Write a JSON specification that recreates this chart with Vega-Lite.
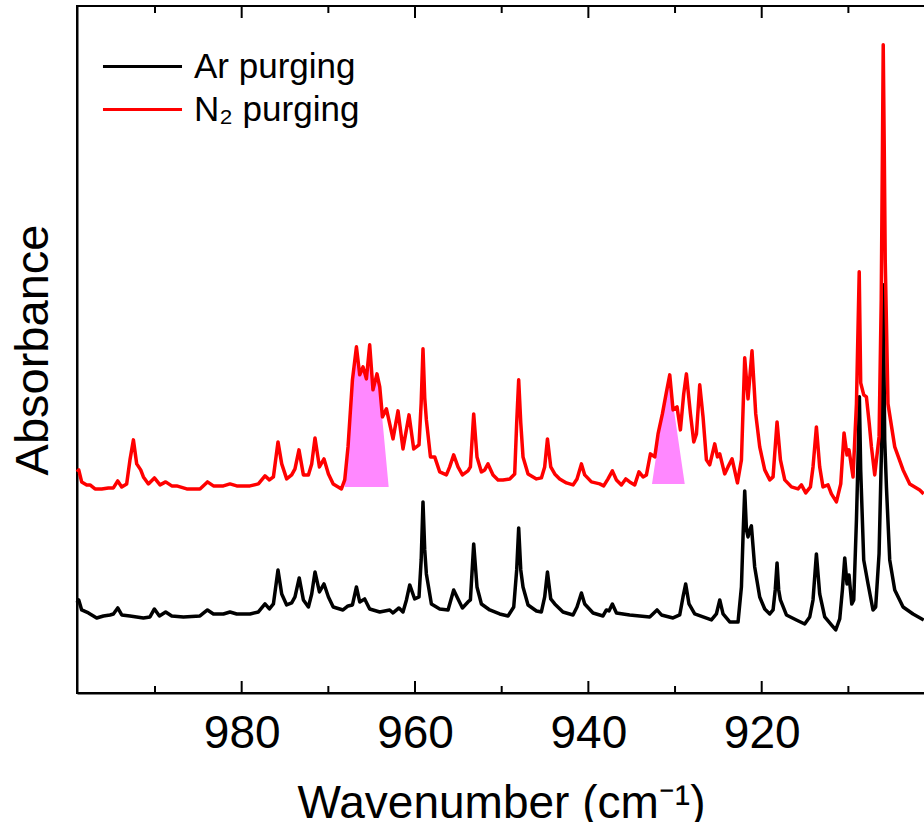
{
"$schema": "https://vega.github.io/schema/vega-lite/v6.json",
"width": 848, "height": 687,
"autosize": "none",
"padding": {"left": 77, "top": 6, "right": 0, "bottom": 129},
"background": "white",
"config": {"font": "Liberation Sans", "view": {"stroke": "#000000", "strokeWidth": 2},
  "axis": {"domainColor": "#000000", "domainWidth": 2, "tickColor": "#000000", "tickWidth": 2, "grid": false, "labelColor": "#000000", "titleColor": "#000000"}},
"datasets": {
"ticks": [
{"wn":980,"a0":0,"a1":0.012},{"wn":960,"a0":0,"a1":0.012},{"wn":940,"a0":0,"a1":0.012},{"wn":920,"a0":0,"a1":0.012},
{"wn":990,"a0":0,"a1":0.007},{"wn":970,"a0":0,"a1":0.007},{"wn":950,"a0":0,"a1":0.007},{"wn":930,"a0":0,"a1":0.007},{"wn":910,"a0":0,"a1":0.007},
{"wn":980,"a0":0.6867,"a1":0.6747},{"wn":960,"a0":0.6867,"a1":0.6747},{"wn":940,"a0":0.6867,"a1":0.6747},{"wn":920,"a0":0.6867,"a1":0.6747},
{"wn":990,"a0":0.6867,"a1":0.6797},{"wn":970,"a0":0.6867,"a1":0.6797},{"wn":950,"a0":0.6867,"a1":0.6797},{"wn":930,"a0":0.6867,"a1":0.6797},{"wn":910,"a0":0.6867,"a1":0.6797}
],
"fill": [
{"r":1,"wn":968.11,"A":0.206,"A0":0.206},{"r":1,"wn":967.73,"A":0.246,"A0":0.206},{"r":1,"wn":967.22,"A":0.313,"A0":0.206},{"r":1,"wn":966.76,"A":0.346,"A0":0.206},{"r":1,"wn":966.38,"A":0.318,"A0":0.206},{"r":1,"wn":966.00,"A":0.326,"A0":0.206},{"r":1,"wn":965.61,"A":0.314,"A0":0.206},{"r":1,"wn":965.23,"A":0.348,"A0":0.206},{"r":1,"wn":964.85,"A":0.303,"A0":0.206},{"r":1,"wn":964.39,"A":0.319,"A0":0.206},{"r":1,"wn":964.07,"A":0.306,"A0":0.206},{"r":1,"wn":963.88,"A":0.284,"A0":0.206},{"r":1,"wn":963.04,"A":0.206,"A0":0.206},
{"r":2,"wn":932.66,"A":0.209,"A0":0.209},{"r":2,"wn":931.46,"A":0.279,"A0":0.209},{"r":2,"wn":930.99,"A":0.301,"A0":0.209},{"r":2,"wn":930.61,"A":0.318,"A0":0.209},{"r":2,"wn":930.30,"A":0.293,"A0":0.209},{"r":2,"wn":928.88,"A":0.209,"A0":0.209}
],
"spec": [
{"s":"Ar purging","wn":999.00,"A":0.090},{"s":"Ar purging","wn":998.80,"A":0.093},{"s":"Ar purging","wn":998.46,"A":0.083},{"s":"Ar purging","wn":997.68,"A":0.080},{"s":"Ar purging","wn":997.30,"A":0.078},{"s":"Ar purging","wn":996.73,"A":0.075},{"s":"Ar purging","wn":995.95,"A":0.077},{"s":"Ar purging","wn":995.19,"A":0.078},{"s":"Ar purging","wn":994.80,"A":0.079},{"s":"Ar purging","wn":994.30,"A":0.085},{"s":"Ar purging","wn":993.84,"A":0.078},{"s":"Ar purging","wn":992.89,"A":0.077},{"s":"Ar purging","wn":991.34,"A":0.075},{"s":"Ar purging","wn":990.58,"A":0.076},{"s":"Ar purging","wn":990.07,"A":0.084},{"s":"Ar purging","wn":989.49,"A":0.077},{"s":"Ar purging","wn":988.77,"A":0.081},{"s":"Ar purging","wn":988.07,"A":0.077},{"s":"Ar purging","wn":986.72,"A":0.076},{"s":"Ar purging","wn":984.81,"A":0.077},{"s":"Ar purging","wn":983.95,"A":0.083},{"s":"Ar purging","wn":983.26,"A":0.079},{"s":"Ar purging","wn":982.11,"A":0.079},{"s":"Ar purging","wn":981.35,"A":0.081},{"s":"Ar purging","wn":980.57,"A":0.079},{"s":"Ar purging","wn":979.04,"A":0.079},{"s":"Ar purging","wn":978.07,"A":0.081},{"s":"Ar purging","wn":977.31,"A":0.089},{"s":"Ar purging","wn":976.80,"A":0.084},{"s":"Ar purging","wn":976.34,"A":0.089},{"s":"Ar purging","wn":975.81,"A":0.123},{"s":"Ar purging","wn":975.38,"A":0.099},{"s":"Ar purging","wn":974.81,"A":0.088},{"s":"Ar purging","wn":974.23,"A":0.090},{"s":"Ar purging","wn":973.85,"A":0.096},{"s":"Ar purging","wn":973.36,"A":0.115},{"s":"Ar purging","wn":972.88,"A":0.093},{"s":"Ar purging","wn":972.30,"A":0.086},{"s":"Ar purging","wn":971.92,"A":0.099},{"s":"Ar purging","wn":971.54,"A":0.121},{"s":"Ar purging","wn":971.03,"A":0.101},{"s":"Ar purging","wn":970.50,"A":0.109},{"s":"Ar purging","wn":969.99,"A":0.096},{"s":"Ar purging","wn":969.44,"A":0.086},{"s":"Ar purging","wn":968.31,"A":0.083},{"s":"Ar purging","wn":967.73,"A":0.087},{"s":"Ar purging","wn":967.22,"A":0.088},{"s":"Ar purging","wn":966.76,"A":0.106},{"s":"Ar purging","wn":966.38,"A":0.091},{"s":"Ar purging","wn":965.81,"A":0.094},{"s":"Ar purging","wn":965.23,"A":0.084},{"s":"Ar purging","wn":964.07,"A":0.081},{"s":"Ar purging","wn":962.92,"A":0.083},{"s":"Ar purging","wn":962.54,"A":0.080},{"s":"Ar purging","wn":961.85,"A":0.085},{"s":"Ar purging","wn":961.39,"A":0.081},{"s":"Ar purging","wn":960.99,"A":0.093},{"s":"Ar purging","wn":960.61,"A":0.108},{"s":"Ar purging","wn":960.04,"A":0.094},{"s":"Ar purging","wn":959.54,"A":0.096},{"s":"Ar purging","wn":959.29,"A":0.133},{"s":"Ar purging","wn":959.08,"A":0.191},{"s":"Ar purging","wn":958.88,"A":0.143},{"s":"Ar purging","wn":958.69,"A":0.119},{"s":"Ar purging","wn":958.11,"A":0.089},{"s":"Ar purging","wn":957.15,"A":0.084},{"s":"Ar purging","wn":956.19,"A":0.083},{"s":"Ar purging","wn":955.54,"A":0.103},{"s":"Ar purging","wn":955.04,"A":0.094},{"s":"Ar purging","wn":954.53,"A":0.085},{"s":"Ar purging","wn":953.89,"A":0.091},{"s":"Ar purging","wn":953.61,"A":0.093},{"s":"Ar purging","wn":953.23,"A":0.149},{"s":"Ar purging","wn":952.85,"A":0.106},{"s":"Ar purging","wn":952.34,"A":0.089},{"s":"Ar purging","wn":951.38,"A":0.083},{"s":"Ar purging","wn":950.23,"A":0.079},{"s":"Ar purging","wn":949.27,"A":0.077},{"s":"Ar purging","wn":948.61,"A":0.086},{"s":"Ar purging","wn":948.27,"A":0.123},{"s":"Ar purging","wn":948.04,"A":0.165},{"s":"Ar purging","wn":947.80,"A":0.123},{"s":"Ar purging","wn":947.54,"A":0.106},{"s":"Ar purging","wn":946.96,"A":0.088},{"s":"Ar purging","wn":945.99,"A":0.082},{"s":"Ar purging","wn":945.42,"A":0.081},{"s":"Ar purging","wn":945.04,"A":0.096},{"s":"Ar purging","wn":944.72,"A":0.121},{"s":"Ar purging","wn":944.34,"A":0.094},{"s":"Ar purging","wn":943.88,"A":0.089},{"s":"Ar purging","wn":942.93,"A":0.081},{"s":"Ar purging","wn":941.77,"A":0.078},{"s":"Ar purging","wn":941.31,"A":0.086},{"s":"Ar purging","wn":940.80,"A":0.100},{"s":"Ar purging","wn":940.42,"A":0.089},{"s":"Ar purging","wn":939.46,"A":0.080},{"s":"Ar purging","wn":938.31,"A":0.077},{"s":"Ar purging","wn":937.92,"A":0.083},{"s":"Ar purging","wn":937.62,"A":0.082},{"s":"Ar purging","wn":937.23,"A":0.089},{"s":"Ar purging","wn":936.76,"A":0.080},{"s":"Ar purging","wn":935.23,"A":0.078},{"s":"Ar purging","wn":932.92,"A":0.076},{"s":"Ar purging","wn":932.08,"A":0.083},{"s":"Ar purging","wn":931.57,"A":0.078},{"s":"Ar purging","wn":930.23,"A":0.075},{"s":"Ar purging","wn":929.46,"A":0.078},{"s":"Ar purging","wn":929.08,"A":0.096},{"s":"Ar purging","wn":928.77,"A":0.109},{"s":"Ar purging","wn":928.39,"A":0.089},{"s":"Ar purging","wn":927.73,"A":0.079},{"s":"Ar purging","wn":926.77,"A":0.076},{"s":"Ar purging","wn":925.80,"A":0.073},{"s":"Ar purging","wn":925.23,"A":0.079},{"s":"Ar purging","wn":924.84,"A":0.093},{"s":"Ar purging","wn":924.46,"A":0.079},{"s":"Ar purging","wn":923.69,"A":0.071},{"s":"Ar purging","wn":922.73,"A":0.071},{"s":"Ar purging","wn":922.34,"A":0.106},{"s":"Ar purging","wn":922.13,"A":0.163},{"s":"Ar purging","wn":921.96,"A":0.202},{"s":"Ar purging","wn":921.76,"A":0.163},{"s":"Ar purging","wn":921.58,"A":0.156},{"s":"Ar purging","wn":921.38,"A":0.163},{"s":"Ar purging","wn":921.19,"A":0.167},{"s":"Ar purging","wn":920.81,"A":0.126},{"s":"Ar purging","wn":920.23,"A":0.096},{"s":"Ar purging","wn":919.65,"A":0.084},{"s":"Ar purging","wn":919.07,"A":0.079},{"s":"Ar purging","wn":918.69,"A":0.083},{"s":"Ar purging","wn":918.44,"A":0.103},{"s":"Ar purging","wn":918.23,"A":0.130},{"s":"Ar purging","wn":918.04,"A":0.103},{"s":"Ar purging","wn":917.84,"A":0.093},{"s":"Ar purging","wn":917.15,"A":0.078},{"s":"Ar purging","wn":916.00,"A":0.073},{"s":"Ar purging","wn":915.04,"A":0.069},{"s":"Ar purging","wn":914.46,"A":0.076},{"s":"Ar purging","wn":914.08,"A":0.093},{"s":"Ar purging","wn":913.69,"A":0.139},{"s":"Ar purging","wn":913.31,"A":0.099},{"s":"Ar purging","wn":912.73,"A":0.076},{"s":"Ar purging","wn":911.96,"A":0.068},{"s":"Ar purging","wn":911.46,"A":0.063},{"s":"Ar purging","wn":911.00,"A":0.074},{"s":"Ar purging","wn":910.69,"A":0.103},{"s":"Ar purging","wn":910.42,"A":0.135},{"s":"Ar purging","wn":910.16,"A":0.109},{"s":"Ar purging","wn":909.93,"A":0.118},{"s":"Ar purging","wn":909.61,"A":0.089},{"s":"Ar purging","wn":909.38,"A":0.093},{"s":"Ar purging","wn":909.07,"A":0.173},{"s":"Ar purging","wn":908.86,"A":0.243},{"s":"Ar purging","wn":908.73,"A":0.296},{"s":"Ar purging","wn":908.58,"A":0.223},{"s":"Ar purging","wn":908.23,"A":0.133},{"s":"Ar purging","wn":907.73,"A":0.109},{"s":"Ar purging","wn":907.16,"A":0.083},{"s":"Ar purging","wn":906.85,"A":0.086},{"s":"Ar purging","wn":906.46,"A":0.139},{"s":"Ar purging","wn":906.19,"A":0.239},{"s":"Ar purging","wn":905.98,"A":0.408},{"s":"Ar purging","wn":905.81,"A":0.253},{"s":"Ar purging","wn":905.61,"A":0.206},{"s":"Ar purging","wn":905.23,"A":0.133},{"s":"Ar purging","wn":904.65,"A":0.103},{"s":"Ar purging","wn":903.69,"A":0.086},{"s":"Ar purging","wn":902.54,"A":0.079},{"s":"Ar purging","wn":901.31,"A":0.073},
{"s":"N₂ purging","wn":999.00,"A":0.221},{"s":"N₂ purging","wn":998.80,"A":0.223},{"s":"N₂ purging","wn":998.46,"A":0.211},{"s":"N₂ purging","wn":997.88,"A":0.208},{"s":"N₂ purging","wn":997.50,"A":0.208},{"s":"N₂ purging","wn":996.92,"A":0.204},{"s":"N₂ purging","wn":996.15,"A":0.204},{"s":"N₂ purging","wn":995.38,"A":0.205},{"s":"N₂ purging","wn":994.80,"A":0.205},{"s":"N₂ purging","wn":994.30,"A":0.212},{"s":"N₂ purging","wn":993.84,"A":0.206},{"s":"N₂ purging","wn":993.27,"A":0.209},{"s":"N₂ purging","wn":992.89,"A":0.233},{"s":"N₂ purging","wn":992.49,"A":0.253},{"s":"N₂ purging","wn":992.11,"A":0.229},{"s":"N₂ purging","wn":991.65,"A":0.223},{"s":"N₂ purging","wn":991.34,"A":0.216},{"s":"N₂ purging","wn":990.76,"A":0.209},{"s":"N₂ purging","wn":990.07,"A":0.215},{"s":"N₂ purging","wn":989.42,"A":0.208},{"s":"N₂ purging","wn":988.77,"A":0.211},{"s":"N₂ purging","wn":988.07,"A":0.207},{"s":"N₂ purging","wn":987.50,"A":0.207},{"s":"N₂ purging","wn":986.34,"A":0.204},{"s":"N₂ purging","wn":984.81,"A":0.204},{"s":"N₂ purging","wn":983.95,"A":0.211},{"s":"N₂ purging","wn":983.26,"A":0.207},{"s":"N₂ purging","wn":982.11,"A":0.207},{"s":"N₂ purging","wn":981.35,"A":0.209},{"s":"N₂ purging","wn":980.57,"A":0.207},{"s":"N₂ purging","wn":979.04,"A":0.207},{"s":"N₂ purging","wn":978.07,"A":0.209},{"s":"N₂ purging","wn":977.31,"A":0.217},{"s":"N₂ purging","wn":976.80,"A":0.213},{"s":"N₂ purging","wn":976.34,"A":0.216},{"s":"N₂ purging","wn":975.81,"A":0.251},{"s":"N₂ purging","wn":975.38,"A":0.229},{"s":"N₂ purging","wn":974.81,"A":0.214},{"s":"N₂ purging","wn":974.23,"A":0.218},{"s":"N₂ purging","wn":973.85,"A":0.224},{"s":"N₂ purging","wn":973.39,"A":0.243},{"s":"N₂ purging","wn":972.88,"A":0.218},{"s":"N₂ purging","wn":972.30,"A":0.218},{"s":"N₂ purging","wn":971.92,"A":0.229},{"s":"N₂ purging","wn":971.54,"A":0.255},{"s":"N₂ purging","wn":971.03,"A":0.226},{"s":"N₂ purging","wn":970.50,"A":0.234},{"s":"N₂ purging","wn":969.99,"A":0.219},{"s":"N₂ purging","wn":969.44,"A":0.209},{"s":"N₂ purging","wn":968.49,"A":0.204},{"s":"N₂ purging","wn":968.11,"A":0.213},{"s":"N₂ purging","wn":967.73,"A":0.246},{"s":"N₂ purging","wn":967.22,"A":0.313},{"s":"N₂ purging","wn":966.76,"A":0.346},{"s":"N₂ purging","wn":966.38,"A":0.318},{"s":"N₂ purging","wn":966.00,"A":0.326},{"s":"N₂ purging","wn":965.61,"A":0.314},{"s":"N₂ purging","wn":965.23,"A":0.348},{"s":"N₂ purging","wn":964.85,"A":0.303},{"s":"N₂ purging","wn":964.39,"A":0.319},{"s":"N₂ purging","wn":964.07,"A":0.306},{"s":"N₂ purging","wn":963.76,"A":0.276},{"s":"N₂ purging","wn":963.30,"A":0.284},{"s":"N₂ purging","wn":962.54,"A":0.254},{"s":"N₂ purging","wn":961.96,"A":0.282},{"s":"N₂ purging","wn":961.39,"A":0.244},{"s":"N₂ purging","wn":960.69,"A":0.278},{"s":"N₂ purging","wn":960.15,"A":0.244},{"s":"N₂ purging","wn":959.54,"A":0.248},{"s":"N₂ purging","wn":959.29,"A":0.290},{"s":"N₂ purging","wn":959.08,"A":0.344},{"s":"N₂ purging","wn":958.88,"A":0.295},{"s":"N₂ purging","wn":958.69,"A":0.273},{"s":"N₂ purging","wn":958.22,"A":0.236},{"s":"N₂ purging","wn":957.73,"A":0.236},{"s":"N₂ purging","wn":957.15,"A":0.221},{"s":"N₂ purging","wn":956.38,"A":0.218},{"s":"N₂ purging","wn":956.00,"A":0.226},{"s":"N₂ purging","wn":955.54,"A":0.238},{"s":"N₂ purging","wn":955.04,"A":0.226},{"s":"N₂ purging","wn":954.53,"A":0.218},{"s":"N₂ purging","wn":953.89,"A":0.222},{"s":"N₂ purging","wn":953.61,"A":0.226},{"s":"N₂ purging","wn":953.23,"A":0.279},{"s":"N₂ purging","wn":952.85,"A":0.236},{"s":"N₂ purging","wn":952.34,"A":0.221},{"s":"N₂ purging","wn":951.96,"A":0.223},{"s":"N₂ purging","wn":951.58,"A":0.229},{"s":"N₂ purging","wn":951.00,"A":0.218},{"s":"N₂ purging","wn":950.42,"A":0.213},{"s":"N₂ purging","wn":949.85,"A":0.213},{"s":"N₂ purging","wn":949.07,"A":0.214},{"s":"N₂ purging","wn":948.50,"A":0.219},{"s":"N₂ purging","wn":948.27,"A":0.270},{"s":"N₂ purging","wn":948.04,"A":0.313},{"s":"N₂ purging","wn":947.80,"A":0.270},{"s":"N₂ purging","wn":947.54,"A":0.236},{"s":"N₂ purging","wn":946.96,"A":0.219},{"s":"N₂ purging","wn":945.99,"A":0.214},{"s":"N₂ purging","wn":945.42,"A":0.215},{"s":"N₂ purging","wn":945.04,"A":0.226},{"s":"N₂ purging","wn":944.72,"A":0.254},{"s":"N₂ purging","wn":944.34,"A":0.226},{"s":"N₂ purging","wn":943.88,"A":0.219},{"s":"N₂ purging","wn":943.31,"A":0.214},{"s":"N₂ purging","wn":942.53,"A":0.210},{"s":"N₂ purging","wn":941.77,"A":0.208},{"s":"N₂ purging","wn":941.31,"A":0.214},{"s":"N₂ purging","wn":940.80,"A":0.229},{"s":"N₂ purging","wn":940.42,"A":0.218},{"s":"N₂ purging","wn":939.65,"A":0.211},{"s":"N₂ purging","wn":938.69,"A":0.209},{"s":"N₂ purging","wn":938.23,"A":0.207},{"s":"N₂ purging","wn":937.73,"A":0.214},{"s":"N₂ purging","wn":937.23,"A":0.222},{"s":"N₂ purging","wn":936.76,"A":0.213},{"s":"N₂ purging","wn":936.19,"A":0.208},{"s":"N₂ purging","wn":935.69,"A":0.214},{"s":"N₂ purging","wn":935.23,"A":0.211},{"s":"N₂ purging","wn":934.65,"A":0.208},{"s":"N₂ purging","wn":934.16,"A":0.221},{"s":"N₂ purging","wn":933.69,"A":0.216},{"s":"N₂ purging","wn":933.30,"A":0.218},{"s":"N₂ purging","wn":932.84,"A":0.239},{"s":"N₂ purging","wn":932.34,"A":0.236},{"s":"N₂ purging","wn":931.96,"A":0.259},{"s":"N₂ purging","wn":931.46,"A":0.279},{"s":"N₂ purging","wn":930.99,"A":0.301},{"s":"N₂ purging","wn":930.61,"A":0.318},{"s":"N₂ purging","wn":930.23,"A":0.283},{"s":"N₂ purging","wn":929.77,"A":0.286},{"s":"N₂ purging","wn":929.38,"A":0.263},{"s":"N₂ purging","wn":929.00,"A":0.299},{"s":"N₂ purging","wn":928.69,"A":0.319},{"s":"N₂ purging","wn":928.22,"A":0.279},{"s":"N₂ purging","wn":927.84,"A":0.251},{"s":"N₂ purging","wn":927.53,"A":0.259},{"s":"N₂ purging","wn":927.15,"A":0.308},{"s":"N₂ purging","wn":926.77,"A":0.276},{"s":"N₂ purging","wn":926.38,"A":0.233},{"s":"N₂ purging","wn":926.00,"A":0.228},{"s":"N₂ purging","wn":925.42,"A":0.249},{"s":"N₂ purging","wn":925.11,"A":0.236},{"s":"N₂ purging","wn":924.84,"A":0.239},{"s":"N₂ purging","wn":924.27,"A":0.219},{"s":"N₂ purging","wn":923.89,"A":0.226},{"s":"N₂ purging","wn":923.42,"A":0.234},{"s":"N₂ purging","wn":922.80,"A":0.210},{"s":"N₂ purging","wn":922.34,"A":0.233},{"s":"N₂ purging","wn":921.96,"A":0.335},{"s":"N₂ purging","wn":921.58,"A":0.294},{"s":"N₂ purging","wn":921.12,"A":0.342},{"s":"N₂ purging","wn":920.69,"A":0.279},{"s":"N₂ purging","wn":920.23,"A":0.246},{"s":"N₂ purging","wn":919.65,"A":0.223},{"s":"N₂ purging","wn":919.07,"A":0.213},{"s":"N₂ purging","wn":918.69,"A":0.216},{"s":"N₂ purging","wn":918.23,"A":0.271},{"s":"N₂ purging","wn":917.84,"A":0.233},{"s":"N₂ purging","wn":917.34,"A":0.213},{"s":"N₂ purging","wn":916.57,"A":0.206},{"s":"N₂ purging","wn":915.81,"A":0.204},{"s":"N₂ purging","wn":915.42,"A":0.208},{"s":"N₂ purging","wn":914.92,"A":0.200},{"s":"N₂ purging","wn":914.38,"A":0.206},{"s":"N₂ purging","wn":914.08,"A":0.226},{"s":"N₂ purging","wn":913.69,"A":0.266},{"s":"N₂ purging","wn":913.31,"A":0.226},{"s":"N₂ purging","wn":912.93,"A":0.206},{"s":"N₂ purging","wn":912.35,"A":0.208},{"s":"N₂ purging","wn":911.96,"A":0.199},{"s":"N₂ purging","wn":911.38,"A":0.191},{"s":"N₂ purging","wn":910.88,"A":0.209},{"s":"N₂ purging","wn":910.50,"A":0.260},{"s":"N₂ purging","wn":910.16,"A":0.238},{"s":"N₂ purging","wn":909.93,"A":0.243},{"s":"N₂ purging","wn":909.46,"A":0.216},{"s":"N₂ purging","wn":909.07,"A":0.289},{"s":"N₂ purging","wn":908.75,"A":0.421},{"s":"N₂ purging","wn":908.58,"A":0.310},{"s":"N₂ purging","wn":908.23,"A":0.298},{"s":"N₂ purging","wn":907.92,"A":0.296},{"s":"N₂ purging","wn":907.60,"A":0.270},{"s":"N₂ purging","wn":907.34,"A":0.246},{"s":"N₂ purging","wn":906.96,"A":0.218},{"s":"N₂ purging","wn":906.46,"A":0.256},{"s":"N₂ purging","wn":906.21,"A":0.393},{"s":"N₂ purging","wn":906.07,"A":0.543},{"s":"N₂ purging","wn":905.98,"A":0.648},{"s":"N₂ purging","wn":905.86,"A":0.543},{"s":"N₂ purging","wn":905.75,"A":0.433},{"s":"N₂ purging","wn":905.43,"A":0.289},{"s":"N₂ purging","wn":904.65,"A":0.246},{"s":"N₂ purging","wn":903.69,"A":0.223},{"s":"N₂ purging","wn":902.92,"A":0.209},{"s":"N₂ purging","wn":901.77,"A":0.203},{"s":"N₂ purging","wn":901.31,"A":0.199}
]
},
"layer": [
{
 "data": {"name": "ticks"},
 "mark": {"type": "rule", "color": "#000000", "strokeWidth": 2},
 "encoding": {
  "x": {"field": "wn", "type": "quantitative", "scale": {"domain": [901.16, 999], "reverse": true, "nice": false, "zero": false},
        "axis": {"orient": "bottom", "values": [980, 960, 940, 920], "format": "d", "ticks": false, "domain": true, "domainWidth": 2, "labelFontSize": 46, "labelPadding": 54, "labelBaseline": "alphabetic", "labelFlush": false, "labelOverlap": false, "title": "Wavenumber (cm⁻¹)", "titleFontSize": 46, "titleFontWeight": "normal", "titleBaseline": "alphabetic", "titleY": 124}},
  "y": {"field": "a0", "type": "quantitative", "scale": {"domain": [0, 0.6867], "nice": false, "zero": false},
        "axis": {"orient": "left", "domain": true, "domainWidth": 2, "ticks": false, "labels": false, "grid": false, "title": "Absorbance", "titleFontSize": 47, "titleFontWeight": "normal", "titlePadding": 30, "titleBaseline": "alphabetic"}},
  "y2": {"field": "a1"}
 }
},
{
 "data": {"name": "fill"},
 "mark": {"type": "area", "color": "#ff88ff", "opacity": 1},
 "encoding": {
  "x": {"field": "wn", "type": "quantitative", "scale": {"domain": [901.16, 999], "reverse": true, "nice": false, "zero": false},
        "axis": {"orient": "bottom", "values": [980, 960, 940, 920], "format": "d", "ticks": false, "domain": true, "domainWidth": 2, "labelFontSize": 46, "labelPadding": 54, "labelBaseline": "alphabetic", "labelFlush": false, "labelOverlap": false, "title": "Wavenumber (cm⁻¹)", "titleFontSize": 46, "titleFontWeight": "normal", "titleBaseline": "alphabetic", "titleY": 124}},
  "y": {"field": "A", "type": "quantitative", "scale": {"domain": [0, 0.6867], "nice": false, "zero": false},
        "axis": {"orient": "left", "domain": true, "domainWidth": 2, "ticks": false, "labels": false, "grid": false, "title": "Absorbance", "titleFontSize": 47, "titleFontWeight": "normal", "titlePadding": 30, "titleBaseline": "alphabetic"}},
  "y2": {"field": "A0"},
  "detail": {"field": "r", "type": "nominal"}
 }
},
{
 "data": {"name": "spec"},
 "transform": [{"filter": "datum.s == 'Ar purging'"}],
 "mark": {"type": "line", "strokeWidth": 3.5, "interpolate": "linear", "strokeJoin": "round"},
 "encoding": {
  "x": {"field": "wn", "type": "quantitative", "scale": {"domain": [901.16, 999], "reverse": true, "nice": false, "zero": false},
        "axis": {"orient": "bottom", "values": [980, 960, 940, 920], "format": "d", "ticks": false, "domain": true, "domainWidth": 2, "labelFontSize": 46, "labelPadding": 54, "labelBaseline": "alphabetic", "labelFlush": false, "labelOverlap": false, "title": "Wavenumber (cm⁻¹)", "titleFontSize": 46, "titleFontWeight": "normal", "titleBaseline": "alphabetic", "titleY": 124}},
  "y": {"field": "A", "type": "quantitative", "scale": {"domain": [0, 0.6867], "nice": false, "zero": false},
        "axis": {"orient": "left", "domain": true, "domainWidth": 2, "ticks": false, "labels": false, "grid": false, "title": "Absorbance", "titleFontSize": 47, "titleFontWeight": "normal", "titlePadding": 30, "titleBaseline": "alphabetic"}},
  "color": {"field": "s", "type": "nominal", "scale": {"domain": ["Ar purging", "N₂ purging"], "range": ["#000000", "#ff0000"]},
        "legend": {"orient": "none", "legendX": 48, "legendY": 43, "title": null, "symbolType": "M-3,0H3", "symbolSize": 694, "symbolStrokeWidth": 3, "labelFontSize": 35, "labelOffset": 34, "rowPadding": 7, "padding": 0, "labelLimit": 0, "labelColor": "#000000"}}
 }
},
{
 "data": {"name": "spec"},
 "transform": [{"filter": "datum.s == 'N₂ purging'"}],
 "mark": {"type": "line", "strokeWidth": 3.5, "interpolate": "linear", "strokeJoin": "round"},
 "encoding": {
  "x": {"field": "wn", "type": "quantitative", "scale": {"domain": [901.16, 999], "reverse": true, "nice": false, "zero": false},
        "axis": {"orient": "bottom", "values": [980, 960, 940, 920], "format": "d", "ticks": false, "domain": true, "domainWidth": 2, "labelFontSize": 46, "labelPadding": 54, "labelBaseline": "alphabetic", "labelFlush": false, "labelOverlap": false, "title": "Wavenumber (cm⁻¹)", "titleFontSize": 46, "titleFontWeight": "normal", "titleBaseline": "alphabetic", "titleY": 124}},
  "y": {"field": "A", "type": "quantitative", "scale": {"domain": [0, 0.6867], "nice": false, "zero": false},
        "axis": {"orient": "left", "domain": true, "domainWidth": 2, "ticks": false, "labels": false, "grid": false, "title": "Absorbance", "titleFontSize": 47, "titleFontWeight": "normal", "titlePadding": 30, "titleBaseline": "alphabetic"}},
  "color": {"field": "s", "type": "nominal", "scale": {"domain": ["Ar purging", "N₂ purging"], "range": ["#000000", "#ff0000"]},
        "legend": {"orient": "none", "legendX": 48, "legendY": 43, "title": null, "symbolType": "M-3,0H3", "symbolSize": 694, "symbolStrokeWidth": 3, "labelFontSize": 35, "labelOffset": 34, "rowPadding": 7, "padding": 0, "labelLimit": 0, "labelColor": "#000000"}}
 }
}
]
}
